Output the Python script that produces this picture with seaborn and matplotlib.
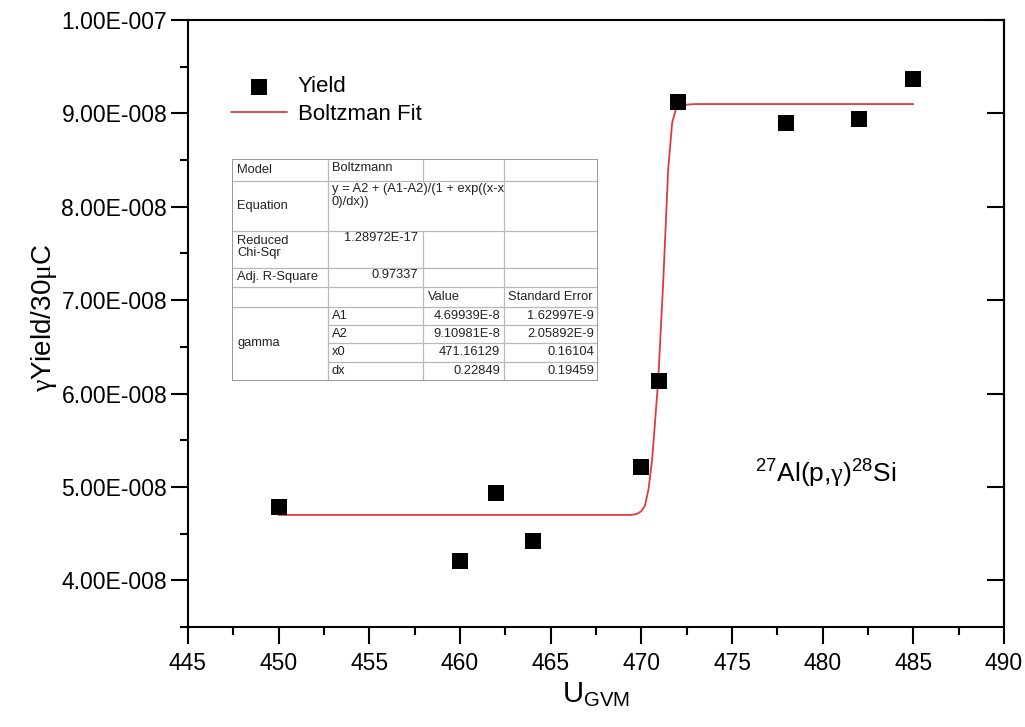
import numpy as np
import pandas as pd
import matplotlib
matplotlib.use("Agg")
import matplotlib.pyplot as plt
from matplotlib.ticker import MultipleLocator, FuncFormatter, NullLocator
import seaborn as sns

# measured yield points
yield_x = [450, 460, 462, 464, 470, 471, 472, 478, 482, 485]
yield_y = [4.78e-8, 4.21e-8, 4.93e-8, 4.42e-8, 5.21e-8, 6.13e-8, 9.12e-8, 8.90e-8, 8.94e-8, 9.37e-8]

# Boltzmann fit curve
fit_x = [450, 469.4, 469.75, 470.0, 470.2, 470.4, 470.6, 470.93, 471.21, 471.48, 471.7, 471.9,
         472.2, 473.0, 485]
fit_y = [4.70e-8, 4.70e-8, 4.71e-8, 4.74e-8, 4.80e-8, 4.98e-8, 5.30e-8, 6.14e-8, 7.21e-8,
         8.40e-8, 8.90e-8, 9.04e-8, 9.09e-8, 9.10e-8, 9.10e-8]

# fit results table
param_names = ["A1", "A2", "x0", "dx"]
param_values = ["4.69939E-8", "9.10981E-8", "471.16129", "0.22849"]
param_errors = ["1.62997E-9", "2.05892E-9", "0.16104", "0.19459"]
chi_sqr = "1.28972E-17"
adj_r2 = "0.97337"

sns.set_style("ticks")
plt.rcParams["font.family"] = ["Liberation Sans", "DejaVu Sans"]
plt.rcParams["mathtext.fontset"] = "custom"
plt.rcParams["mathtext.rm"] = "Liberation Serif"
plt.rcParams["mathtext.sf"] = "Liberation Sans"
plt.rcParams["text.color"] = "black"
plt.rcParams["axes.labelcolor"] = "black"
plt.rcParams["xtick.color"] = "black"
plt.rcParams["ytick.color"] = "black"

fig = plt.figure(figsize=(10.25, 7.27), dpi=100)
ax = fig.add_axes([188 / 1025, 1 - 627 / 727, 816 / 1025, 607 / 727])

pts = pd.DataFrame({"x": yield_x, "y": yield_y})
fit = pd.DataFrame({"x": fit_x, "y": fit_y})

sns.scatterplot(data=pts, x="x", y="y", marker="s", s=125, color="black",
                linewidth=0, ax=ax, label="Yield", zorder=3)
sns.lineplot(data=fit, x="x", y="y", sort=False, color="#e0393e", linewidth=1.3,
             ax=ax, label="Boltzman Fit", zorder=2)

ax.set_xlim(445, 490)
ax.set_ylim(3.5e-8, 1.0e-7)
ax.xaxis.set_major_locator(MultipleLocator(5))
ax.xaxis.set_minor_locator(MultipleLocator(2.5))
ax.yaxis.set_major_locator(MultipleLocator(1e-8))
ax.yaxis.set_minor_locator(MultipleLocator(0.5e-8))


def origin_fmt(v, pos):
    m, e = f"{v:.2E}".split("E")
    e = int(e)
    sign = "-" if e < 0 else "+"
    return f"{m}E{sign}{abs(e):03d}"


ax.yaxis.set_major_formatter(FuncFormatter(origin_fmt))
ax.tick_params(which="major", length=12, width=1.5, labelsize=16.5, direction="out")
ax.tick_params(axis="y", which="major", pad=3)
ax.tick_params(axis="x", which="major", pad=6)
ax.tick_params(which="minor", length=6, width=1.5, direction="out")
for sp in ax.spines.values():
    sp.set_linewidth(1.5)
    sp.set_color("black")

# inward major ticks on the right side
right = ax.secondary_yaxis("right")
right.yaxis.set_major_locator(MultipleLocator(1e-8))
right.yaxis.set_minor_locator(NullLocator())
right.tick_params(which="major", direction="in", length=12, width=1.5, labelright=False)
right.spines["right"].set_linewidth(1.5)

ax.set_xlabel(r"U$_{\mathsf{GVM}}$", fontsize=21, labelpad=4)
ax.set_ylabel(r"$\mathrm{\gamma}$Yield/30$\mathrm{\mu}$C", fontsize=20)
ax.yaxis.set_label_coords(-0.158, 0.51)

leg = ax.legend(loc="upper left", bbox_to_anchor=(0.053, 0.907), frameon=False,
                fontsize=16, handlelength=2.5, borderaxespad=0, borderpad=0,
                labelspacing=0.3, handletextpad=0.5)

ax.text(0.695, 0.254, r"$^{\mathsf{27}}$Al(p,$\mathrm{\gamma}$)$^{\mathsf{28}}$Si",
        transform=ax.transAxes, fontsize=19, ha="left", va="center")

# parameter table drawn as an inset (pixel units inside the box)
tab = fig.add_axes([232 / 1025, 1 - 381 / 727, 366 / 1025, 222 / 727])
tab.set_xlim(0, 366)
tab.set_ylim(222, 0)
tab.axis("off")
grid_kw = dict(color="#b8b8b8", linewidth=0.9)
for y in [22, 72, 109, 128, 148]:
    tab.plot([0, 366], [y, y], **grid_kw)
for y in [166, 184, 203]:
    tab.plot([96, 366], [y, y], **grid_kw)
tab.plot([96, 96], [0, 222], **grid_kw)
tab.plot([272, 272], [0, 222], **grid_kw)
tab.plot([191, 191], [0, 22], **grid_kw)
tab.plot([191, 191], [72, 222], **grid_kw)
tab.plot([0, 366, 366, 0, 0], [0, 0, 222, 222, 0], color="#999999", linewidth=1.4)

tkw = dict(fontsize=9.3, color="#222222")
tab.text(5, 11, "Model", va="center", **tkw)
tab.text(100, 9, "Boltzmann", va="center", **tkw)
tab.text(5, 47, "Equation", va="center", **tkw)
tab.text(100, 24, "y = A2 + (A1-A2)/(1 + exp((x-x\n0)/dx))", va="top", linespacing=1.1, **tkw)
tab.text(5, 88, "Reduced\nChi-Sqr", va="center", linespacing=1.1, **tkw)
tab.text(186, 79, chi_sqr, va="center", ha="right", **tkw)
tab.text(5, 118, "Adj. R-Square", va="center", **tkw)
tab.text(186, 116, adj_r2, va="center", ha="right", **tkw)
tab.text(196, 138, "Value", va="center", **tkw)
tab.text(276, 138, "Standard Error", va="center", **tkw)
tab.text(5, 184, "gamma", va="center", **tkw)
row_centers = [157, 175, 193.5, 212.5]
for name, val, err, yc in zip(param_names, param_values, param_errors, row_centers):
    tab.text(100, yc, name, va="center", **tkw)
    tab.text(268, yc, val, va="center", ha="right", **tkw)
    tab.text(362, yc, err, va="center", ha="right", **tkw)

fig.savefig("out.png", dpi=100)
